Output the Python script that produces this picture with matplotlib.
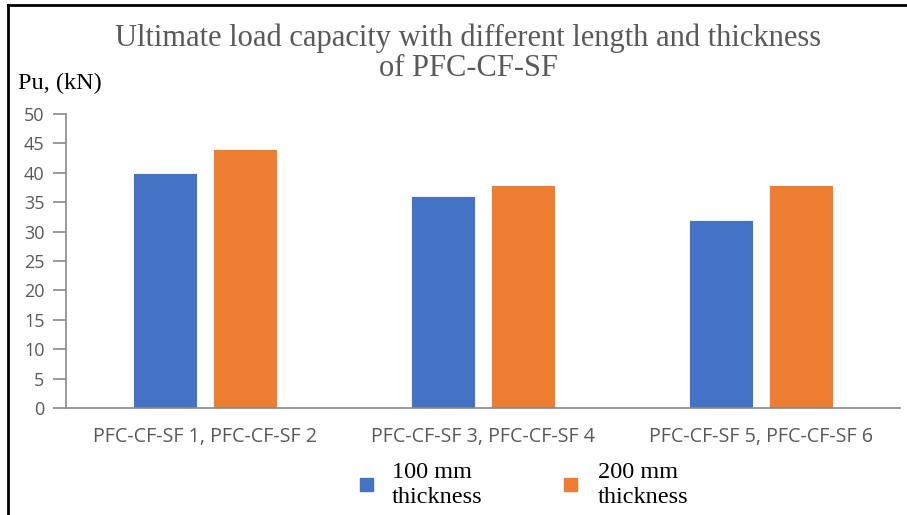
import matplotlib
matplotlib.use("Agg")
import matplotlib.pyplot as plt
import numpy as np
from matplotlib.patches import Rectangle
from matplotlib.lines import Line2D

categories = ["PFC-CF-SF 1, PFC-CF-SF 2", "PFC-CF-SF 3, PFC-CF-SF 4", "PFC-CF-SF 5, PFC-CF-SF 6"]
series_names = ["100 mm\nthickness", "200 mm\nthickness"]
thick_100 = [40, 36, 32]
thick_200 = [44, 38, 38]
yticks = [0, 5, 10, 15, 20, 25, 30, 35, 40, 45, 50]

W, H = 907, 515
fig = plt.figure(figsize=(W/100, H/100), dpi=100)

def fx(px): return px / W
def fy(py): return 1 - py / H

blue = "#4472C4"
orange = "#ED7D31"
gray = "#595959"
axis_gray = "#898989"

ax = fig.add_axes([fx(66), fy(408), fx(900) - fx(66), fy(114) - fy(408)])
x = np.arange(len(categories))
bw = 0.227
off = 0.144
ax.bar(x - off, thick_100, bw, color=blue, edgecolor="white", linewidth=0.6)
ax.bar(x + off, thick_200, bw, color=orange, edgecolor="white", linewidth=0.6)
ax.set_xlim(-0.5, 2.5)
ax.set_ylim(0, 50)
ax.set_yticks(yticks)
ax.set_xticks(x)
ax.set_xticklabels(categories)
for s in ["top", "right"]:
    ax.spines[s].set_visible(False)
ax.spines["left"].set_color(axis_gray)
ax.spines["bottom"].set_color(axis_gray)
ax.spines["left"].set_linewidth(1.2)
ax.spines["bottom"].set_linewidth(1.2)
ax.tick_params(axis="y", length=9.5, width=1.2, color=axis_gray, labelcolor=gray,
               labelsize=13, pad=6)
ax.tick_params(axis="x", length=0, labelcolor=gray, labelsize=14.2, pad=14)
for lab in ax.get_yticklabels() + ax.get_xticklabels():
    lab.set_family("Open Sans")

serif = "Liberation Serif"
fig.text(fx(468), fy(38), "Ultimate load capacity with different length and thickness",
         ha="center", va="center", family=serif, fontsize=22, color=gray)
fig.text(fx(468), fy(69), "of PFC-CF-SF",
         ha="center", va="center", family=serif, fontsize=22, color=gray)
fig.text(fx(18), fy(83), "Pu, (kN)", ha="left", va="center", family=serif,
         fontsize=17.5, color="black")

# legend
for sq_x, tx, name, col in [(360, 392, series_names[0], blue), (564, 598, series_names[1], orange)]:
    fig.patches.append(Rectangle((fx(sq_x), fy(491)), fx(13), fy(0) - fy(13),
                                 transform=fig.transFigure, color=col))
    fig.text(fx(tx), fy(485), name, ha="left", va="center", family=serif,
             fontsize=17.5, color="black", linespacing=1.3)

# frame
fig.lines.append(Line2D([fx(8), fx(907)], [fy(5), fy(5)], transform=fig.transFigure,
                        color="black", linewidth=2))
fig.lines.append(Line2D([fx(8), fx(8)], [fy(5), fy(515)], transform=fig.transFigure,
                        color="black", linewidth=2))

fig.savefig("out.png", dpi=100)
